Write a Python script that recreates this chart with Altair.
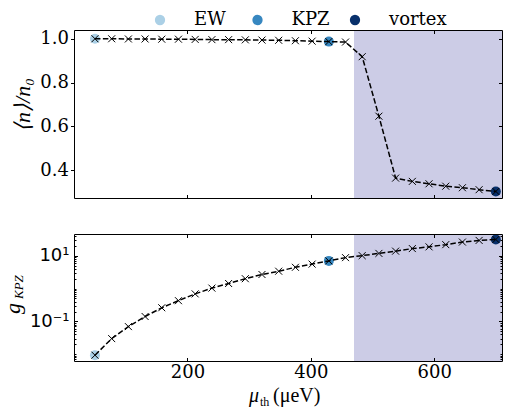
import altair as alt
import pandas as pd

# ---- data ----
mu_th = [50.0, 77.1, 104.2, 131.3, 158.3, 185.4, 212.5, 239.6, 266.7, 293.8,
         320.8, 347.9, 375.0, 402.1, 429.2, 456.3, 483.3, 510.4, 537.5, 564.6,
         591.7, 618.8, 645.8, 672.9, 700.0]
density = [1.000, 1.000, 0.999, 0.999, 0.998, 0.998, 0.997, 0.996, 0.996, 0.995,
           0.994, 0.993, 0.991, 0.989, 0.987, 0.985, 0.918, 0.646, 0.363, 0.348,
           0.337, 0.326, 0.319, 0.310, 0.302]
g_kpz = [0.0094, 0.030, 0.0695, 0.141, 0.26, 0.427, 0.687, 1.03, 1.42, 1.99,
         2.67, 3.36, 4.42, 5.53, 6.92, 8.7, 10.0, 11.7, 13.7, 16.4,
         18.5, 21.6, 25.9, 29.0, 31.0]
phase_names = ["EW", "KPZ", "vortex"]
phase_index = [0, 14, 24]
phase_colors = ["#abd0e6", "#3787c0", "#08306b"]
vortex_start = [470]
vortex_end = [710]
x_domain = [16, 710]
x_ticks = [200, 400, 600]
top_domain = [0.272, 1.04]
top_ticks = [0.4, 0.6, 0.8, 1.0]
bot_domain = [0.00625, 45.5]
bot_major = [0.1, 10]
bot_minor = [0.007, 0.008, 0.009, 0.01, 0.02, 0.03, 0.04, 0.05, 0.06, 0.07, 0.08, 0.09,
             0.2, 0.3, 0.4, 0.5, 0.6, 0.7, 0.8, 0.9, 1, 2, 3, 4, 5, 6, 7, 8, 9,
             20, 30, 40]

W, H1, H2 = 428, 168, 127
SHADE = "#ccccE6"
CROSS = "M-1,-1L1,1M1,-1L-1,1"

df = pd.DataFrame({"mu": mu_th, "n": density, "g": g_kpz})
phases = pd.DataFrame({
    "phase": phase_names,
    "mu": [mu_th[i] for i in phase_index],
    "n": [density[i] for i in phase_index],
    "g": [g_kpz[i] for i in phase_index],
})
shade = pd.DataFrame({"start": vortex_start, "end": vortex_end})

xs = alt.Scale(domain=x_domain, nice=False, zero=False)
ys_top = alt.Scale(domain=top_domain, nice=False, zero=False)
ys_bot = alt.Scale(type="log", domain=bot_domain, nice=False)
color_scale = alt.Scale(domain=phase_names, range=phase_colors)
legend_pos = alt.Scale(type="point", domain=phase_names, range=[86, 281], padding=0)


def tick_axis(orient, offset, values, size=3.5, domain=True):
    return alt.Axis(orient=orient, offset=offset, values=values, labels=False,
                    domain=domain, domainColor="black", domainWidth=1,
                    ticks=True, tickSize=size, tickColor="black", tickWidth=1,
                    title=None, grid=False, zindex=1)


def text_layer(txt, x, y, size, font="Liberation Serif", style="italic",
               angle=0, align="left", baseline="alphabetic"):
    return alt.Chart(pd.DataFrame({"t": [txt]})).mark_text(
        font=font, fontSize=size, fontStyle=style, angle=angle, align=align,
        baseline=baseline, color="black"
    ).encode(text="t:N", x=alt.value(x), y=alt.value(y))


# ---------- top panel ----------
shade_top = alt.Chart(shade).mark_rect(color=SHADE).encode(
    x=alt.X("start:Q", scale=xs, axis=tick_axis("top", -H1, x_ticks)),
    x2="end:Q", y=alt.value(0), y2=alt.value(H1))

circ_top = alt.Chart(phases).mark_circle(size=100, opacity=1).encode(
    x=alt.X("mu:Q", scale=xs, axis=None),
    y=alt.Y("n:Q", scale=ys_top, axis=None),
    color=alt.Color("phase:N", scale=color_scale, legend=None))

line_top = alt.Chart(df).mark_line(color="black", strokeWidth=1.5, strokeDash=[5.5, 2.4]).encode(
    x=alt.X("mu:Q", scale=xs, axis=tick_axis("bottom", -H1, x_ticks)),
    y=alt.Y("n:Q", scale=ys_top,
            axis=alt.Axis(orient="left", values=top_ticks, format=".1f", domain=True,
                          domainColor="black", ticks=True, tickSize=3.5, tickColor="black",
                          labelFont="DejaVu Serif", labelFontSize=18, labelColor="black",
                          labelPadding=2, title=None, grid=False, zindex=1)))

cross_top = alt.Chart(df).mark_point(shape=CROSS, size=49, color="black", strokeWidth=1,
                                      filled=False, opacity=1).encode(
    x=alt.X("mu:Q", scale=xs, axis=None),
    y=alt.Y("n:Q", scale=ys_top, axis=tick_axis("left", -W, top_ticks)))

legend_sym = alt.Chart(phases).mark_circle(size=106, opacity=1).encode(
    x=alt.X("phase:N", scale=legend_pos, axis=None, sort=phase_names),
    y=alt.value(-10),
    color=alt.Color("phase:N", scale=color_scale, legend=None))
legend_txt = alt.Chart(phases).mark_text(
    align="left", baseline="middle", dx=34, font="DejaVu Serif", fontSize=18, color="black"
).encode(
    x=alt.X("phase:N", scale=legend_pos, axis=None, sort=phase_names),
    y=alt.value(-10), text="phase:N")

title_top = text_layer("⟨n⟩/n₀", -51, 75, 22, angle=270,
                       align="center", baseline="middle")

top = alt.layer(shade_top, circ_top, line_top, cross_top, legend_sym, legend_txt,
                title_top).resolve_scale(x="independent").resolve_axis(
    x="independent", y="independent").properties(width=W, height=H1)

# ---------- bottom panel ----------
shade_bot = alt.Chart(shade).mark_rect(color=SHADE).encode(
    x=alt.X("start:Q", scale=xs,
            axis=alt.Axis(orient="bottom", values=x_ticks, format="d", domain=False,
                          ticks=False, tickSize=0, labelFont="DejaVu Serif", labelFontSize=18,
                          labelColor="black", labelPadding=2, title=None, grid=False, zindex=1)),
    x2="end:Q", y=alt.value(0), y2=alt.value(H2))

circ_bot = alt.Chart(phases).mark_circle(size=100, opacity=1).encode(
    x=alt.X("mu:Q", scale=xs, axis=None),
    y=alt.Y("g:Q", scale=ys_bot, axis=tick_axis("right", -W, bot_minor, size=2, domain=False)),
    color=alt.Color("phase:N", scale=color_scale, legend=None))

line_bot = alt.Chart(df).mark_line(color="black", strokeWidth=1.5, strokeDash=[5.5, 2.4]).encode(
    x=alt.X("mu:Q", scale=xs, axis=tick_axis("top", -H2, x_ticks)),
    y=alt.Y("g:Q", scale=ys_bot,
            axis=alt.Axis(orient="left", values=bot_major, domain=True, domainColor="black",
                          ticks=False, tickSize=0,
                          labelExpr="datum.value > 1 ? '10¹' : '10⁻¹'",
                          labelFont="DejaVu Sans", labelFontSize=18, labelColor="black",
                          labelPadding=5, title=None, grid=False, zindex=1)))

cross_bot = alt.Chart(df).mark_point(shape=CROSS, size=49, color="black", strokeWidth=1,
                                      filled=False, opacity=1).encode(
    x=alt.X("mu:Q", scale=xs, axis=tick_axis("bottom", -H2, x_ticks)),
    y=alt.Y("g:Q", scale=ys_bot, axis=tick_axis("right", -W, bot_major, domain=False)))

ghost1 = alt.Chart(df).mark_point(opacity=0).encode(
    x=alt.X("mu:Q", scale=xs, axis=None),
    y=alt.Y("g:Q", scale=ys_bot, axis=tick_axis("left", -W, bot_major)))
ghost2 = alt.Chart(df).mark_point(opacity=0).encode(
    x=alt.X("mu:Q", scale=xs, axis=None),
    y=alt.Y("g:Q", scale=ys_bot, axis=tick_axis("left", -W, bot_minor, size=2, domain=False)))

g_main = text_layer("g", -54, 80, 22, angle=270)
g_sub = text_layer("KPZ", -51, 65, 13, angle=270)
x_mu = text_layer("μ", 175, 168, 20)
x_th = text_layer("th", 186, 172, 12, style="normal")
x_unit = text_layer("(μeV)", 199, 168, 20, style="normal")

bottom = alt.layer(shade_bot, circ_bot, line_bot, cross_bot, ghost1, ghost2,
                   g_main, g_sub, x_mu, x_th, x_unit).resolve_axis(
    x="independent", y="independent").properties(width=W, height=H2)

chart = alt.vconcat(top, bottom, spacing=34).properties(
    padding={"left": -6, "top": 3, "right": 0, "bottom": 0}
).configure_view(stroke=None)

chart.save("out.html", embed_options={"renderer": "svg", "actions": False})
